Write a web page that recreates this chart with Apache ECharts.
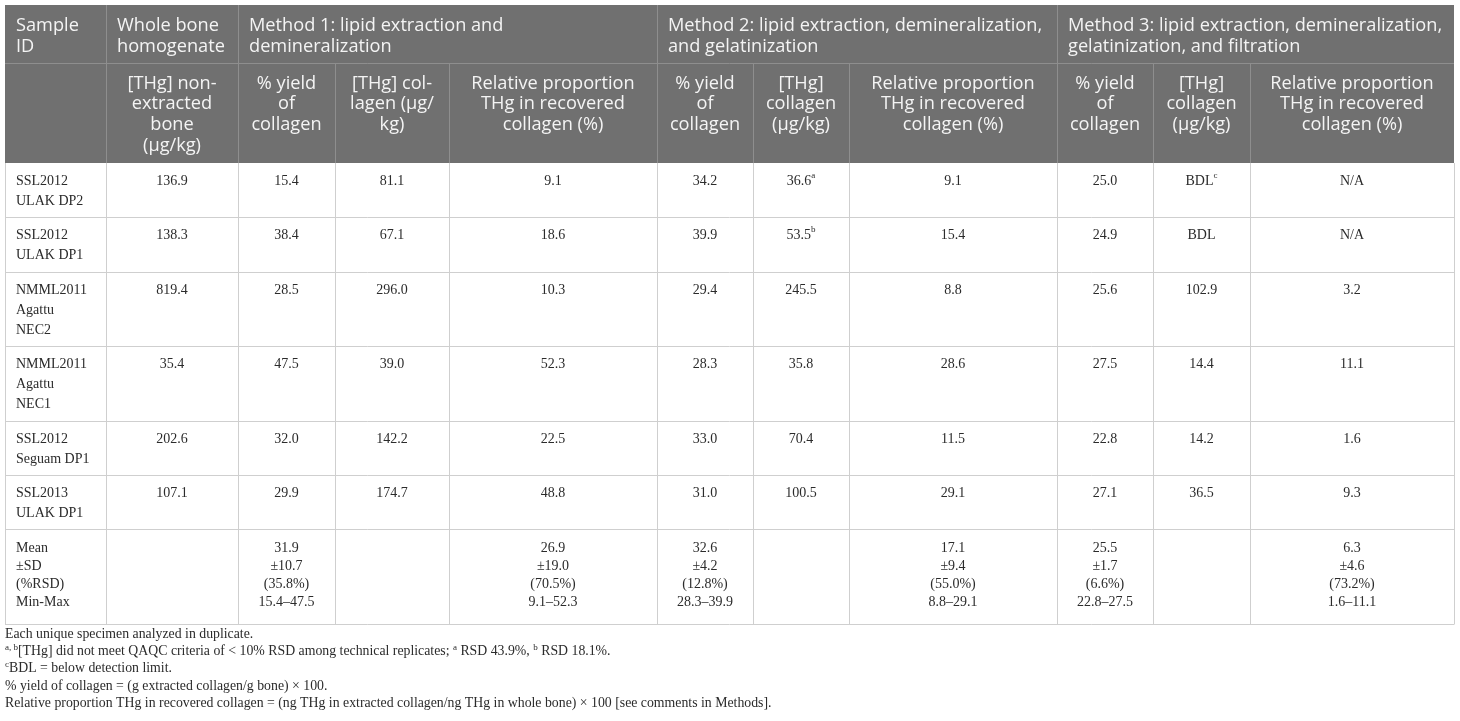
<!DOCTYPE html>
<html lang="en">
<head>
  <meta charset="UTF-8">
  <title>THg in bone collagen</title>
  <script src="https://cdn.jsdelivr.net/npm/echarts@6/dist/echarts.min.js"></script>
  <style>
    html, body { margin: 0; padding: 0; background: #fff; }
  </style>
</head>
<body>
  <div id="main" style="width:1460px;height:721px;"></div>
  <script>
    // table values
    var sampleIds = ['SSL2012\nULAK DP2', 'SSL2012\nULAK DP1', 'NMML2011\nAgattu\nNEC2',
      'NMML2011\nAgattu\nNEC1', 'SSL2012\nSeguam DP1', 'SSL2013\nULAK DP1']
    var wholeBone = [136.9, 138.3, 819.4, 35.4, 202.6, 107.1]
    var m1Yield = [15.4, 38.4, 28.5, 47.5, 32.0, 29.9]
    var m1Collagen = [81.1, 67.1, 296.0, 39.0, 142.2, 174.7]
    var m1Relative = [9.1, 18.6, 10.3, 52.3, 22.5, 48.8]
    var m2Yield = [34.2, 39.9, 29.4, 28.3, 33.0, 31.0]
    var m2Collagen = [36.6, 53.5, 245.5, 35.8, 70.4, 100.5]
    var m2CollagenNote = ['a', 'b', '', '', '', '']
    var m2Relative = [9.1, 15.4, 8.8, 28.6, 11.5, 29.1]
    var m3Yield = [25.0, 24.9, 25.6, 27.5, 22.8, 27.1]
    var m3Collagen = [null, null, 102.9, 14.4, 14.2, 36.5]   // null = BDL
    var m3CollagenNote = ['c', '', '', '', '', '']
    var m3Relative = [null, null, 3.2, 11.1, 1.6, 9.3]       // null = N/A

    // summary: mean, sd, %rsd, min, max
    var m1YieldStats = [31.9, 10.7, 35.8, 15.4, 47.5]
    var m1RelativeStats = [26.9, 19.0, 70.5, 9.1, 52.3]
    var m2YieldStats = [32.6, 4.2, 12.8, 28.3, 39.9]
    var m2RelativeStats = [17.1, 9.4, 55.0, 8.8, 29.1]
    var m3YieldStats = [25.5, 1.7, 6.6, 22.8, 27.5]
    var m3RelativeStats = [6.3, 4.6, 73.2, 1.6, 11.1]

    var groupHeaders = ['Sample\nID', 'Whole bone\nhomogenate',
      'Method 1: lipid extraction and\ndemineralization',
      'Method 2: lipid extraction, demineralization,\nand gelatinization',
      'Method 3: lipid extraction, demineralization,\ngelatinization, and filtration']
    var groupSpans = [[0, 1], [1, 2], [2, 5], [5, 8], [8, 11]]
    var subHeaders = ['', '[THg] non-\nextracted\nbone\n(µg/kg)',
      '% yield\nof\ncollagen', '[THg] col-\nlagen (µg/\nkg)', 'Relative proportion\nTHg in recovered\ncollagen (%)',
      '% yield\nof\ncollagen', '[THg]\ncollagen\n(µg/kg)', 'Relative proportion\nTHg in recovered\ncollagen (%)',
      '% yield\nof\ncollagen', '[THg]\ncollagen\n(µg/kg)', 'Relative proportion\nTHg in recovered\ncollagen (%)']
    var footnotes = [
      'Each unique specimen analyzed in duplicate.',
      '{sup|a, b}[THg] did not meet QAQC criteria of < 10% RSD among technical replicates; {sup|a} RSD 43.9%, {sup|b} RSD 18.1%.',
      '{sup|c}BDL = below detection limit.',
      '% yield of collagen = (g extracted collagen/g bone) × 100.',
      'Relative proportion THg in recovered collagen = (ng THg in extracted collagen/ng THg in whole bone) × 100 [see comments in Methods].'
    ]

    // layout
    var colEdges = [5, 106, 238, 335, 449, 657, 753, 849, 1057, 1153, 1250, 1454]
    var rowEdges = [5, 63, 163, 217, 272, 346, 421, 475, 529, 624]
    var headFont = '"Open Sans", "Noto Sans", sans-serif'
    var bodyFont = '"Liberation Serif", "DejaVu Serif", serif'
    var headBg = '#707070', headText = '#f4f4f4', headLine = '#8e8e8e'
    var bodyLine = '#cfcfcf', bodyText = '#2b2b2b'

    var fmt = function (v) { return v.toFixed(1) }
    var stats = function (s) {
      return fmt(s[0]) + '\n±' + fmt(s[1]) + '\n(' + fmt(s[2]) + '%)\n' + fmt(s[3]) + '–' + fmt(s[4])
    }
    var withNote = function (txt, note) { return note ? txt + '{sup|' + note + '}' : txt }

    var rows = sampleIds.map(function (id, i) {
      return [
        id, fmt(wholeBone[i]), fmt(m1Yield[i]), fmt(m1Collagen[i]), fmt(m1Relative[i]),
        fmt(m2Yield[i]), withNote(fmt(m2Collagen[i]), m2CollagenNote[i]), fmt(m2Relative[i]),
        fmt(m3Yield[i]),
        withNote(m3Collagen[i] == null ? 'BDL' : fmt(m3Collagen[i]), m3CollagenNote[i]),
        m3Relative[i] == null ? 'N/A' : fmt(m3Relative[i])
      ]
    })
    rows.push(['Mean\n±SD\n(%RSD)\nMin-Max', '', stats(m1YieldStats), '', stats(m1RelativeStats),
      stats(m2YieldStats), '', stats(m2RelativeStats), stats(m3YieldStats), '', stats(m3RelativeStats)])

    var els = []
    function line(x1, y1, x2, y2, color) {
      els.push({ type: 'line', silent: true, shape: { x1: x1, y1: y1, x2: x2, y2: y2 },
        style: { stroke: color, lineWidth: 1 } })
    }
    function text(x, y, str, o) {
      els.push({ type: 'text', silent: true, x: x, y: y, style: {
        text: str, fill: o.fill, fontSize: o.size, fontFamily: o.family, align: o.align || 'left',
        verticalAlign: 'top', lineHeight: o.lh,
        rich: { sup: { fontSize: Math.round(o.size * 0.62), fontFamily: o.family, fill: o.fill,
          verticalAlign: 'top', lineHeight: o.lh, padding: [0, 0, 9, 0] } }
      } })
    }

    var L = colEdges[0], R = colEdges[colEdges.length - 1]
    // header
    els.push({ type: 'rect', silent: true, shape: { x: L, y: rowEdges[0], width: R - L, height: rowEdges[2] - rowEdges[0] },
      style: { fill: headBg } })
    groupSpans.forEach(function (sp, g) {
      if (sp[0] > 0) line(colEdges[sp[0]] + 0.5, rowEdges[0], colEdges[sp[0]] + 0.5, rowEdges[1], headLine)
      text(colEdges[sp[0]] + 11, rowEdges[0] + 10.5, groupHeaders[g], { fill: headText, size: 18.2, family: headFont, lh: 21 })
    })
    line(L, rowEdges[1] + 0.5, R, rowEdges[1] + 0.5, headLine)
    subHeaders.forEach(function (h, c) {
      if (c > 0) line(colEdges[c] + 0.5, rowEdges[1], colEdges[c] + 0.5, rowEdges[2], headLine)
      if (h) text((colEdges[c] + colEdges[c + 1]) / 2, rowEdges[1] + 10, h,
        { fill: headText, size: 18.2, family: headFont, lh: 20.8, align: 'center' })
    })

    // body
    rows.forEach(function (r, i) {
      var top = rowEdges[i + 2]
      var isStats = i === rows.length - 1
      r.forEach(function (v, c) {
        if (!v) return
        var left = c === 0
        text(left ? colEdges[0] + 11 : (colEdges[c] + colEdges[c + 1]) / 2, top + (isStats ? 10 : 8), v,
          { fill: bodyText, size: 14, family: bodyFont, lh: isStats ? 18 : 20, align: left ? 'left' : 'center' })
      })
    })
    for (var j = 3; j < rowEdges.length; j++) line(L, rowEdges[j] + 0.5, R, rowEdges[j] + 0.5, bodyLine)
    colEdges.forEach(function (x) { line(x + 0.5, rowEdges[2], x + 0.5, rowEdges[rowEdges.length - 1] + 0.5, bodyLine) })

    // footnotes
    footnotes.forEach(function (f, k) {
      text(L, rowEdges[rowEdges.length - 1] + 1.5 + k * 17.3, f, { fill: bodyText, size: 13.8, family: bodyFont, lh: 17 })
    })

    var myChart = echarts.init(document.getElementById('main'), null, { renderer: 'canvas' })
    myChart.setOption({
      backgroundColor: '#fff',
      animation: false,
      graphic: { elements: els }
    })
  </script>
</body>
</html>
